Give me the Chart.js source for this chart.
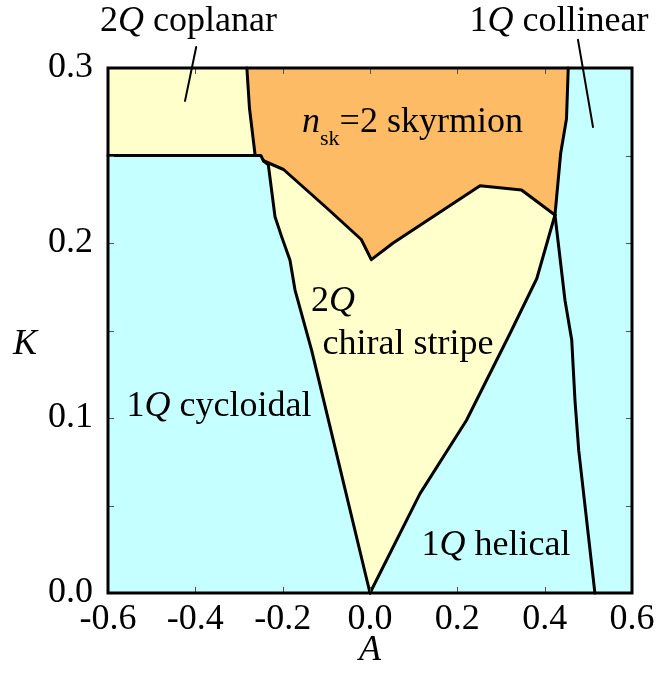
<!DOCTYPE html>
<html>
<head>
<meta charset="utf-8">
<script src="https://cdn.jsdelivr.net/npm/chart.js@4.4.1/dist/chart.umd.min.js"></script>
<style>
  html, body { margin: 0; padding: 0; background: #fff; }
  #wrap { position: relative; width: 660px; height: 679px; }
  #wrap canvas { position: absolute; left: 0; top: 0; display: block; }
  #font-warm { position: absolute; left: 0; top: 0; font: 36px 'Liberation Serif'; color: transparent; pointer-events: none; }
</style>
</head>
<body>
<div id="font-warm">0.3 <i>Q</i> <span style="font-size:22px">sk</span></div>
<div id="wrap"><canvas id="chart-phase" width="660" height="679"></canvas></div>
<script>
// phase diagram in the (A, K) plane - boundaries are [A, K] pairs
const xRange = [-0.6, 0.6];
const yRange = [0.0, 0.3];

const cycloidalTop = [[-0.6, 0.25], [-0.25, 0.25], [-0.244, 0.247]];
const coplanarEdge = [[-0.282, 0.3], [-0.276, 0.277], [-0.263, 0.25]];
const skyrmionBottom = [[-0.244, 0.247], [-0.198, 0.242], [-0.099, 0.220], [-0.02, 0.202], [0.003, 0.1905],
  [0.053, 0.200], [0.252, 0.2327], [0.347, 0.2303], [0.4236, 0.216]];
const skyrmionRight = [[0.4236, 0.216], [0.4367, 0.2513], [0.450, 0.271], [0.454, 0.3]];
const stripeLeft = [[-0.244, 0.247], [-0.2328, 0.2446], [-0.2175, 0.215], [-0.2022, 0.2035], [-0.1832, 0.1902],
  [-0.1717, 0.1731], [-0.1336, 0.1387], [-0.084, 0.0872], [0, 0]];
const stripeRight = [[0, 0], [0.1145, 0.0568], [0.221, 0.0987], [0.3206, 0.1483], [0.382, 0.1797], [0.4236, 0.216]];
const helicalRight = [[0.4236, 0.216], [0.4465, 0.1673], [0.462, 0.1445], [0.4694, 0.1101], [0.478, 0.0815], [0.515, 0]];
const coplanarPointer = [[-0.398, 0.312], [-0.4236, 0.2812]];
const collinearPointer = [[0.4763, 0.3161], [0.5107, 0.2663]];

// labels: runs of [text, style] ('i' italic, 's' subscript), anchored at [A, K] (centre, baseline)
const phaseLabels = [
  { runs: [['2', ''], ['Q', 'i'], [' coplanar', '']], at: [-0.4156, 0.3212] },
  { runs: [['1', ''], ['Q', 'i'], [' collinear', '']], at: [0.4328, 0.3212] },
  { runs: [['n', 'i'], ['sk', 's'], ['=2 skyrmion', '']], at: [0.0973, 0.2635] },
  { runs: [['2', ''], ['Q', 'i']], at: [-0.0847, 0.161] },
  { runs: [['chiral stripe', '']], at: [0.087, 0.1364] },
  { runs: [['1', ''], ['Q', 'i'], [' cycloidal', '']], at: [-0.3458, 0.101] },
  { runs: [['1', ''], ['Q', 'i'], [' helical', '']], at: [0.2885, 0.0215] }
];

const colors = { cyan: '#c6ffff', yellow: '#ffffcc', orange: '#fdbb66' };
const SERIF = "'Liberation Serif'";

// region polygons built from the boundaries
const plotBox = [[xRange[0], yRange[0]], [xRange[1], yRange[0]], [xRange[1], yRange[1]], [xRange[0], yRange[1]]];
const coplanarRegion = [[xRange[0], yRange[1]], ...coplanarEdge, [xRange[0], 0.25]];
const skyrmionRegion = [...coplanarEdge, [-0.25, 0.25], ...skyrmionBottom, ...skyrmionRight.slice(1)];
const stripeRegion = [...skyrmionBottom, ...stripeRight.slice().reverse().slice(1), ...stripeLeft.slice().reverse().slice(1)];

const pts = (arr) => arr.map(([x, y]) => ({ x, y }));
const region = (arr, color, order) => ({
  data: pts(arr), fill: 'shape', backgroundColor: color, borderColor: 'transparent', borderWidth: 0, pointRadius: 0, order
});
const edge = (arr, width) => ({
  data: pts(arr), fill: false, borderColor: '#000', borderWidth: width, pointRadius: 0, order: 0, clip: false,
  borderJoinStyle: 'round', borderCapStyle: 'round'
});

const isTenth = (v) => Math.abs(v * 10 - Math.round(v * 10)) < 1e-6;
const fmt = (v) => (Math.abs(v) < 1e-9 ? '0.0' : v.toFixed(1));

function fontFor(style) {
  if (style === 'i') return 'italic 36px ' + SERIF;
  if (style === 's') return '22px ' + SERIF;
  return '36px ' + SERIF;
}

function drawRuns(ctx, runs, cx, baseY) {
  const widths = runs.map(([t, s]) => { ctx.font = fontFor(s); return ctx.measureText(t).width; });
  let x = cx - widths.reduce((a, b) => a + b, 0) / 2;
  runs.forEach(([t, s], i) => {
    ctx.font = fontFor(s);
    ctx.fillText(t, x, s === 's' ? baseY + 13 : baseY);
    x += widths[i];
  });
}

const overlay = {
  id: 'overlay',
  afterDatasetsDraw(chart) {
    const { ctx, chartArea: a, scales: { x, y } } = chart;
    ctx.save();
    // inward tick marks on all four sides
    ctx.strokeStyle = '#555';
    ctx.lineWidth = 1;
    ctx.beginPath();
    x.ticks.forEach((t) => {
      const px = Math.round(x.getPixelForValue(t.value)) + 0.5;
      ctx.moveTo(px, a.bottom); ctx.lineTo(px, a.bottom - 6);
      ctx.moveTo(px, a.top); ctx.lineTo(px, a.top + 6);
    });
    y.ticks.forEach((t) => {
      const py = Math.round(y.getPixelForValue(t.value)) + 0.5;
      ctx.moveTo(a.left, py); ctx.lineTo(a.left + 6, py);
      ctx.moveTo(a.right, py); ctx.lineTo(a.right - 6, py);
    });
    ctx.stroke();

    // frame
    ctx.strokeStyle = '#000';
    ctx.lineWidth = 3;
    ctx.strokeRect(a.left, a.top, a.width, a.height);

    // phase names
    ctx.fillStyle = '#000';
    ctx.textAlign = 'left';
    ctx.textBaseline = 'alphabetic';
    phaseLabels.forEach((l) => drawRuns(ctx, l.runs, x.getPixelForValue(l.at[0]), y.getPixelForValue(l.at[1])));

    // axis titles
    ctx.font = 'italic 36px ' + SERIF;
    ctx.textAlign = 'center';
    ctx.textBaseline = 'middle';
    ctx.fillText('A', (a.left + a.right) / 2, 651);
    ctx.fillText('K', 25, 345);
    ctx.restore();
  }
};

function drawChart(canvas) {
  return new Chart(canvas.getContext('2d'), {
    type: 'line',
    data: {
      datasets: [
        edge(cycloidalTop, 3),
        edge(coplanarEdge, 3),
        edge(skyrmionBottom, 3),
        edge(skyrmionRight, 3),
        edge(stripeLeft, 3),
        edge(stripeRight, 3),
        edge(helicalRight, 3),
        edge(coplanarPointer, 2),
        edge(collinearPointer, 2),
        region(coplanarRegion, colors.yellow, 1),
        region(skyrmionRegion, colors.orange, 1),
        region(stripeRegion, colors.yellow, 1),
        region(plotBox, colors.cyan, 2)
      ]
    },
    options: {
      responsive: false,
      animation: false,
      events: [],
      layout: { padding: { top: 68, right: 28, left: 0, bottom: 0 } },
      elements: { line: { tension: 0 } },
      plugins: { legend: { display: false }, tooltip: { enabled: false } },
      scales: {
        x: {
          type: 'linear', min: xRange[0], max: xRange[1],
          grid: { display: false }, border: { display: false },
          ticks: {
            stepSize: 0.2, autoSkip: false, maxRotation: 0, padding: -3, color: '#000',
            font: { family: SERIF, size: 36 }, callback: (v) => fmt(v)
          },
          afterFit: (s) => { s.height = 86; }
        },
        y: {
          type: 'linear', min: yRange[0], max: yRange[1],
          grid: { display: false }, border: { display: false },
          ticks: {
            stepSize: 0.05, autoSkip: false, padding: 7, color: '#000',
            font: { family: SERIF, size: 36 }, callback: (v) => (isTenth(v) ? fmt(v) : '')
          },
          afterFit: (s) => { s.width = 108; }
        }
      }
    },
    plugins: [overlay]
  });
}

// the first canvas font lookups can miss the serif face: draw once now, warm the font up,
// then redraw on a fresh canvas (swapped in within one task, so nothing blank is ever shown)
function warmFonts() {
  const c = document.createElement('canvas');
  c.width = 50; c.height = 50;
  const g = c.getContext('2d');
  ['10px serif', "36px 'Liberation Serif'", "normal 36px 'Liberation Serif'", "italic 36px 'Liberation Serif'",
    "22px 'Liberation Serif'"].forEach((f) => { g.font = f; g.fillText('0.3 Q', 0, 40); });
}

const wrap = document.getElementById('wrap');
let current = { canvas: document.getElementById('chart-phase') };
current.chart = drawChart(current.canvas);
warmFonts();

function redraw() {
  warmFonts();
  const fresh = document.createElement('canvas');
  fresh.width = 660; fresh.height = 679;
  wrap.appendChild(fresh);
  const chart = drawChart(fresh);
  current.chart.destroy();
  current.canvas.remove();
  current = { canvas: fresh, chart };
}

setTimeout(redraw, 60);
setTimeout(redraw, 400);
window.addEventListener('load', () => requestAnimationFrame(redraw));
</script>
</body>
</html>
